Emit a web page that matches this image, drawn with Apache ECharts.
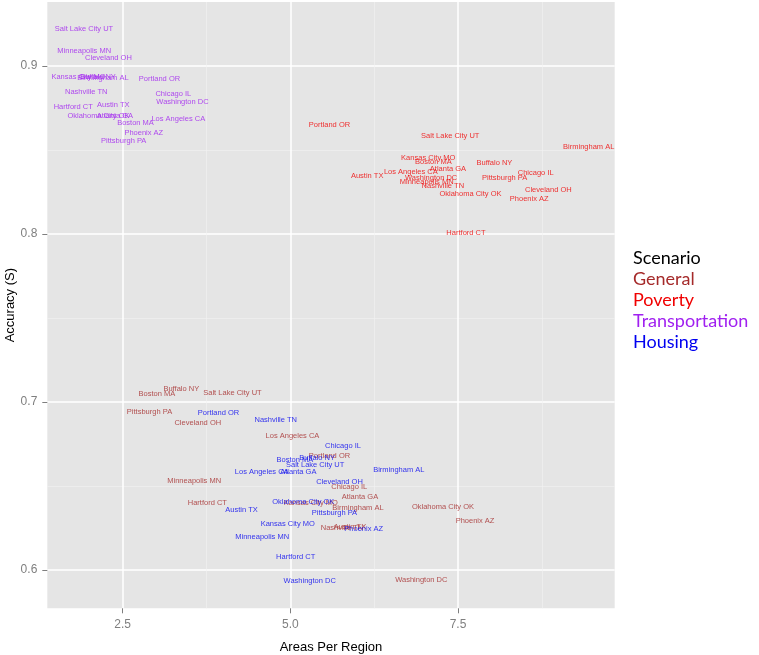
<!DOCTYPE html>
<html>
<head>
<meta charset="utf-8">
<script src="https://cdn.jsdelivr.net/npm/echarts@6/dist/echarts.min.js"></script>
<style>html,body{margin:0;padding:0;background:#fff}#c{width:759px;height:655px}</style>
</head>
<body>
<div id="c"></div>
<script>
const cities = ["Atlanta GA","Austin TX","Birmingham AL","Boston MA","Buffalo NY","Chicago IL","Cleveland OH","Hartford CT","Kansas City MO","Los Angeles CA","Minneapolis MN","Nashville TN","Oklahoma City OK","Phoenix AZ","Pittsburgh PA","Portland OR","Salt Lake City UT","Washington DC"];

const generalX = [6.039,5.889,6.009,3.009,3.374,5.879,3.620,3.762,5.305,5.032,3.566,5.770,7.276,7.754,2.900,5.584,4.137,6.953];
const generalY = [0.6437,0.6256,0.6369,0.7048,0.7077,0.6492,0.6873,0.6401,0.6397,0.6798,0.6530,0.6252,0.6377,0.6290,0.6942,0.6676,0.7054,0.5940];

const povertyX = [7.351,6.146,9.449,7.132,8.044,8.659,8.847,7.619,7.056,6.796,7.033,7.274,7.686,8.562,8.196,5.584,7.385,7.100];
const povertyY = [0.8387,0.8347,0.8520,0.8430,0.8423,0.8365,0.8260,0.8008,0.8454,0.8367,0.8308,0.8284,0.8238,0.8207,0.8335,0.8649,0.8585,0.8335];

const transportX = [2.385,2.360,2.206,2.691,2.132,3.255,2.288,1.763,1.841,3.329,1.926,1.957,2.139,2.815,2.515,3.049,1.923,3.392];
const transportY = [0.8704,0.8770,0.8927,0.8661,0.8935,0.8835,0.9049,0.8754,0.8933,0.8686,0.9091,0.8847,0.8704,0.8601,0.8554,0.8923,0.9220,0.8788];

const housingX = [5.119,4.272,6.617,5.069,5.399,5.785,5.733,5.080,4.962,4.573,4.580,4.783,5.193,6.094,5.658,3.929,5.370,5.289];
const housingY = [0.6585,0.6357,0.6595,0.6655,0.6665,0.6740,0.6524,0.6079,0.6276,0.6585,0.6198,0.6893,0.6407,0.6244,0.6337,0.6936,0.6623,0.5933];

const scenarios = ["General","Poverty","Transportation","Housing"];
const colors = ["#A52A2A","#F00000","#A020F0","#0000F0"];

const xMajorTicks = [2.5,5.0,7.5];
const xMinorTicks = [3.75,6.25,8.75];
const yMajorTicks = [0.6,0.7,0.8,0.9];
const yMinorTicks = [0.65,0.75,0.85];

const xRange = [1.376, 9.837];
const yRange = [0.5772, 0.9381];

const seriesXY = [[generalX,generalY],[povertyX,povertyY],[transportX,transportY],[housingX,housingY]];

const chart = echarts.init(document.getElementById('c'), null, {renderer:'canvas'});
const fmt = v => v.toFixed(1);

const series = scenarios.map((name, i) => ({
  name: name,
  type: 'scatter',
  xAxisIndex: 0,
  yAxisIndex: 0,
  silent: true,
  symbolSize: 1,
  itemStyle: {color: colors[i], opacity: 0},
  label: {
    show: true,
    position: 'inside',
    formatter: p => p.value[2],
    color: colors[i],
    opacity: 0.8,
    fontSize: 7.5,
    fontFamily: 'Liberation Sans, Arial, sans-serif'
  },
  emphasis: {disabled: true},
  data: cities.map((c, k) => [seriesXY[i][0][k], seriesXY[i][1][k], c])
}));

chart.setOption({
  animation: false,
  backgroundColor: '#ffffff',
  grid: {left: 47.3, top: 2, right: 144.3, bottom: 46.7, show: true, backgroundColor: '#E5E5E5', borderWidth: 0, outerBoundsMode: 'none', containLabel: false},
  title: {
    text: 'Scenario', left: 633, top: 249, padding: 0,
    textStyle: {color: '#000', fontSize: 18, fontWeight: 'normal', fontFamily: 'Lato, sans-serif'}
  },
  legend: {
    orient: 'vertical', left: 628, top: 270, padding: 0,
    itemWidth: 0, itemHeight: 0, itemGap: 3, icon: 'rect',
    data: scenarios.map((s, i) => ({name: s, textStyle: {color: colors[i]}})),
    textStyle: {fontSize: 18, fontFamily: 'Lato, sans-serif'},
    selectedMode: false
  },
  xAxis: [
    {
      type: 'value', min: xRange[0], max: xRange[1], position: 'bottom',
      name: 'Areas Per Region', nameLocation: 'middle', nameGap: 33,
      nameTextStyle: {color: '#000', fontSize: 13, fontFamily: 'Liberation Sans, Arial, sans-serif'},
      axisLine: {show: false},
      axisTick: {show: true, length: 5, customValues: xMajorTicks, lineStyle: {color: '#7F7F7F'}},
      axisLabel: {customValues: xMajorTicks, formatter: fmt, color: '#7F7F7F', fontSize: 12, margin: 10, fontFamily: 'Liberation Sans, Arial, sans-serif'},
      splitLine: {show: true, lineStyle: {color: '#FFFFFF', width: 1.5}}
    },
    {
      type: 'value', min: xRange[0], max: xRange[1], position: 'bottom',
      axisLine: {show: false},
      axisTick: {show: false, customValues: xMinorTicks},
      axisLabel: {show: false, customValues: xMinorTicks},
      splitLine: {show: true, lineStyle: {color: '#F2F2F2', width: 0.6}}
    }
  ],
  yAxis: [
    {
      type: 'value', min: yRange[0], max: yRange[1], position: 'left',
      name: 'Accuracy (S)', nameLocation: 'middle', nameGap: 30, nameMoveOverlap: false,
      nameTextStyle: {color: '#000', fontSize: 13, fontFamily: 'Liberation Sans, Arial, sans-serif'},
      axisLine: {show: false},
      axisTick: {show: true, length: 5, customValues: yMajorTicks, lineStyle: {color: '#7F7F7F'}},
      axisLabel: {customValues: yMajorTicks, formatter: fmt, color: '#7F7F7F', fontSize: 12, margin: 10, fontFamily: 'Liberation Sans, Arial, sans-serif'},
      splitLine: {show: true, lineStyle: {color: '#FFFFFF', width: 1.5}}
    },
    {
      type: 'value', min: yRange[0], max: yRange[1], position: 'left',
      axisLine: {show: false},
      axisTick: {show: false, customValues: yMinorTicks},
      axisLabel: {show: false, customValues: yMinorTicks},
      splitLine: {show: true, lineStyle: {color: '#F2F2F2', width: 0.6}}
    }
  ],
  series: series
});
</script>
</body>
</html>
